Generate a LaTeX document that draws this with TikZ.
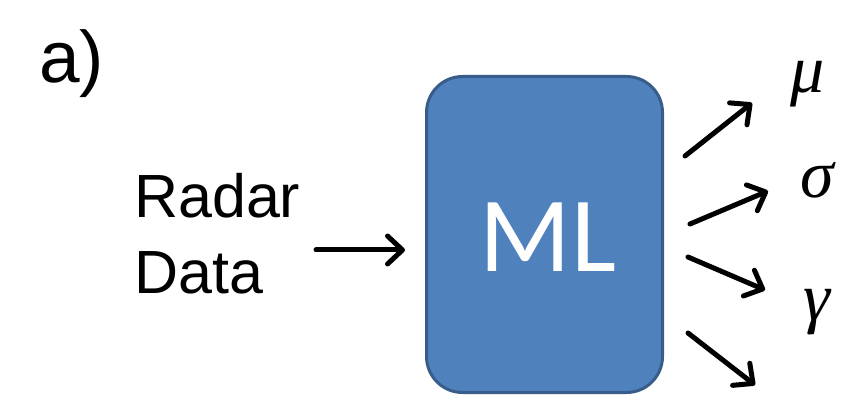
\documentclass[tikz,border=0pt]{standalone}
\usepackage{fontspec}
\setmainfont{Liberation Sans}
\newfontfamily\carlito{Carlito}
\newfontfamily\greekfont{Liberation Serif}
\usetikzlibrary{arrows.meta}
\definecolor{boxfill}{HTML}{4F81BD}
\definecolor{boxline}{HTML}{385D8A}
\tikzset{
  arr/.style={line width=5pt, line cap=round, -{Straight Barb[length=15pt,width=28pt,round]}},
  greek/.style={anchor=base, inner sep=0pt, font=\greekfont\itshape\fontsize{68}{68}\selectfont},
}
\begin{document}
\begin{tikzpicture}[x=1pt,y=-1pt]
\useasboundingbox (0,0) rectangle (851,395);
% label a)
\node[anchor=base west, inner sep=0pt, font=\fontsize{73}{73}\selectfont] (lbl) at (39,83) {a)};
% input text
\node[anchor=base west, inner sep=0pt, align=left, font=\fontsize{61}{76}\selectfont] (radar) at (134,294) {Radar\\Data};
% ML box
\node[draw=boxline, line width=3pt, fill=boxfill, rounded corners=36pt, minimum width=236pt, minimum height=316pt, inner sep=0pt] (ml) at (544.5,234.5) {};
\node[text=white, inner sep=0pt, anchor=base, font=\carlito\fontsize{107}{107}\selectfont] (mltext) at (548,272) {ML};
% input arrow
\coordinate (in1) at (316,250);
\coordinate (in2) at (405,250);
\draw[arr] (in1) -- (in2);
% output arrows
\coordinate (a1s) at (685,156);
\coordinate (a1e) at (752,103);
\coordinate (a2s) at (690,224);
\coordinate (a2e) at (768,191);
\coordinate (a3s) at (688,257);
\coordinate (a3e) at (765,290);
\coordinate (a4s) at (688,333);
\coordinate (a4e) at (755,385);
\draw[arr] (a1s) -- (a1e);
\draw[arr] (a2s) -- (a2e);
\draw[arr] (a3s) -- (a3e);
\draw[arr] (a4s) -- (a4e);
% greek labels
\node[greek] (mu) at (808,93) {μ};
\node[greek] (sigma) at (817,198) {σ};
\node[greek] (gamma) at (817,320) {γ};
\end{tikzpicture}
\end{document}
